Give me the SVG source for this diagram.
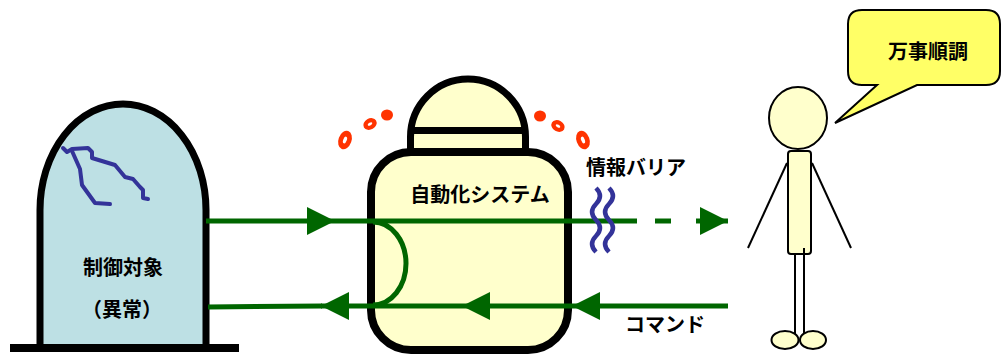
<svg xmlns="http://www.w3.org/2000/svg" width="1003" height="358" viewBox="0 0 1003 358">
  <style>
    .lbl { font-family: "Noto Sans CJK JP", "Noto Sans", sans-serif; font-weight: bold; font-size: 20px; fill: #000; text-anchor: middle; }
    .flow { fill: none; stroke: #006600; stroke-width: 5; }
    .wave { fill: none; stroke: #333399; stroke-width: 4.5; }
    .crack { fill: none; stroke: #333399; stroke-width: 4; stroke-linejoin: round; stroke-linecap: round; }
    .spark { fill: #ff3300; }
    .hole { fill: #ffffff; }
    .thin { stroke: #000; stroke-width: 2; }
    .skin { fill: #ffffcc; stroke: #000; stroke-width: 2; }
  </style>
  <defs>
    <marker id="arrow" markerUnits="userSpaceOnUse" markerWidth="28" markerHeight="28" refX="28" refY="14" orient="auto">
      <path d="M0,0 L28,14 L0,28 Z" fill="#006600"/>
    </marker>
  </defs>

  <rect width="1003" height="358" fill="#ffffff"/>

  <!-- controlled object with a crack -->
  <g id="controlled-object">
    <path d="M40 348 L40 210 A83 106 0 0 1 206 210 L206 348 Z" fill="#bde0e4" stroke="#000" stroke-width="7"/>
    <rect x="10" y="344" width="229" height="8" fill="#000"/>
    <path class="crack" d="M63 148 L67 152 L72 149 L88 148 L92 152 L92 158 L115 165 L125 177 L133 179 L140 187 L143 190 L143 198 L148 199"/>
    <path class="crack" d="M72 151 L80 169 L82 185 L95 203 L110 204"/>
    <text class="lbl" x="123" y="275">制御対象</text>
    <text class="lbl" x="122" y="317">（異常）</text>
  </g>

  <!-- automation system -->
  <g id="automation-system">
    <path d="M410.5 152 L410.5 137 A57.5 58 0 0 1 525.5 137 L525.5 152 Z" fill="#ffffcc" stroke="#000" stroke-width="7"/>
    <line x1="410.5" y1="130.5" x2="525.5" y2="130.5" stroke="#000" stroke-width="7"/>
    <rect x="371" y="152" width="197" height="198" rx="40" ry="40" fill="#ffffcc" stroke="#000" stroke-width="8"/>
    <text class="lbl" x="480" y="202">自動化システム</text>
    <!-- status sparks around the dome -->
    <g transform="rotate(20 345 140)">
      <ellipse class="spark" cx="345" cy="140" rx="6.5" ry="9.5"/>
      <ellipse class="hole" cx="345" cy="140" rx="1.8" ry="3.5"/>
    </g>
    <g transform="rotate(-30 370 124)">
      <ellipse class="spark" cx="370" cy="124" rx="7" ry="5.5"/>
      <ellipse class="hole" cx="370" cy="124" rx="2.5" ry="1.3"/>
    </g>
    <ellipse class="spark" cx="387" cy="115" rx="6" ry="5.5"/>
    <ellipse class="spark" cx="540" cy="116" rx="6" ry="5.5"/>
    <g transform="rotate(30 558 126)">
      <ellipse class="spark" cx="558" cy="126" rx="7" ry="5.5"/>
      <ellipse class="hole" cx="558" cy="126" rx="2.5" ry="1.3"/>
    </g>
    <g transform="rotate(-20 583 140)">
      <ellipse class="spark" cx="583" cy="140" rx="6.5" ry="9.5"/>
      <ellipse class="hole" cx="583" cy="140" rx="1.8" ry="3.5"/>
    </g>
  </g>

  <!-- operator and speech bubble -->
  <g id="operator">
    <path d="M862 10 H986 Q1000 10 1000 24 V71 Q1000 85 986 85 H917 L835 123 L877 85 H862 Q848 85 848 71 V24 Q848 10 862 10 Z" fill="#ffff66" stroke="#000" stroke-width="2"/>
    <text class="lbl" x="928" y="59">万事順調</text>
    <line class="thin" x1="787" y1="163" x2="748" y2="248"/>
    <line class="thin" x1="812" y1="163" x2="851" y2="248"/>
    <line class="thin" x1="795" y1="252" x2="795" y2="334"/>
    <line class="thin" x1="804" y1="252" x2="804" y2="334"/>
    <rect class="skin" x="788" y="151" width="23" height="103" rx="3" ry="3"/>
    <line class="thin" x1="804" y1="248" x2="804" y2="254"/>
    <ellipse class="skin" cx="798" cy="118" rx="29" ry="31"/>
    <ellipse class="skin" cx="785" cy="340" rx="13.5" ry="9"/>
    <ellipse class="skin" cx="813" cy="340" rx="13" ry="9"/>
  </g>

  <!-- information and command flows -->
  <g id="connectors">
    <path class="flow" d="M206 221 L335 221" marker-end="url(#arrow)"/>
    <path class="flow" d="M335 221 L637 221"/>
    <path class="flow" d="M655 221 L671 221"/>
    <path class="flow" d="M696 221 L728 221" marker-end="url(#arrow)"/>
    <path class="flow" d="M373 222 A33 41.5 0 0 1 373 305" stroke-width="4"/>
    <path class="flow" d="M728 306 L572 306" marker-end="url(#arrow)"/>
    <path class="flow" d="M572 306 L462 306" marker-end="url(#arrow)"/>
    <path class="flow" d="M462 306 L321 306" marker-end="url(#arrow)"/>
    <path class="flow" d="M322 306 L208 307"/>
  </g>

  <!-- information barrier -->
  <g id="info-barrier">
    <path class="wave" d="M596 188 q8 8 0 16 t0 16 t0 16 t0 16"/>
    <path class="wave" d="M609 188 q8 8 0 16 t0 16 t0 16 t0 16"/>
    <text class="lbl" x="636" y="175">情報バリア</text>
  </g>

  <text class="lbl" x="665" y="332">コマンド</text>
</svg>
